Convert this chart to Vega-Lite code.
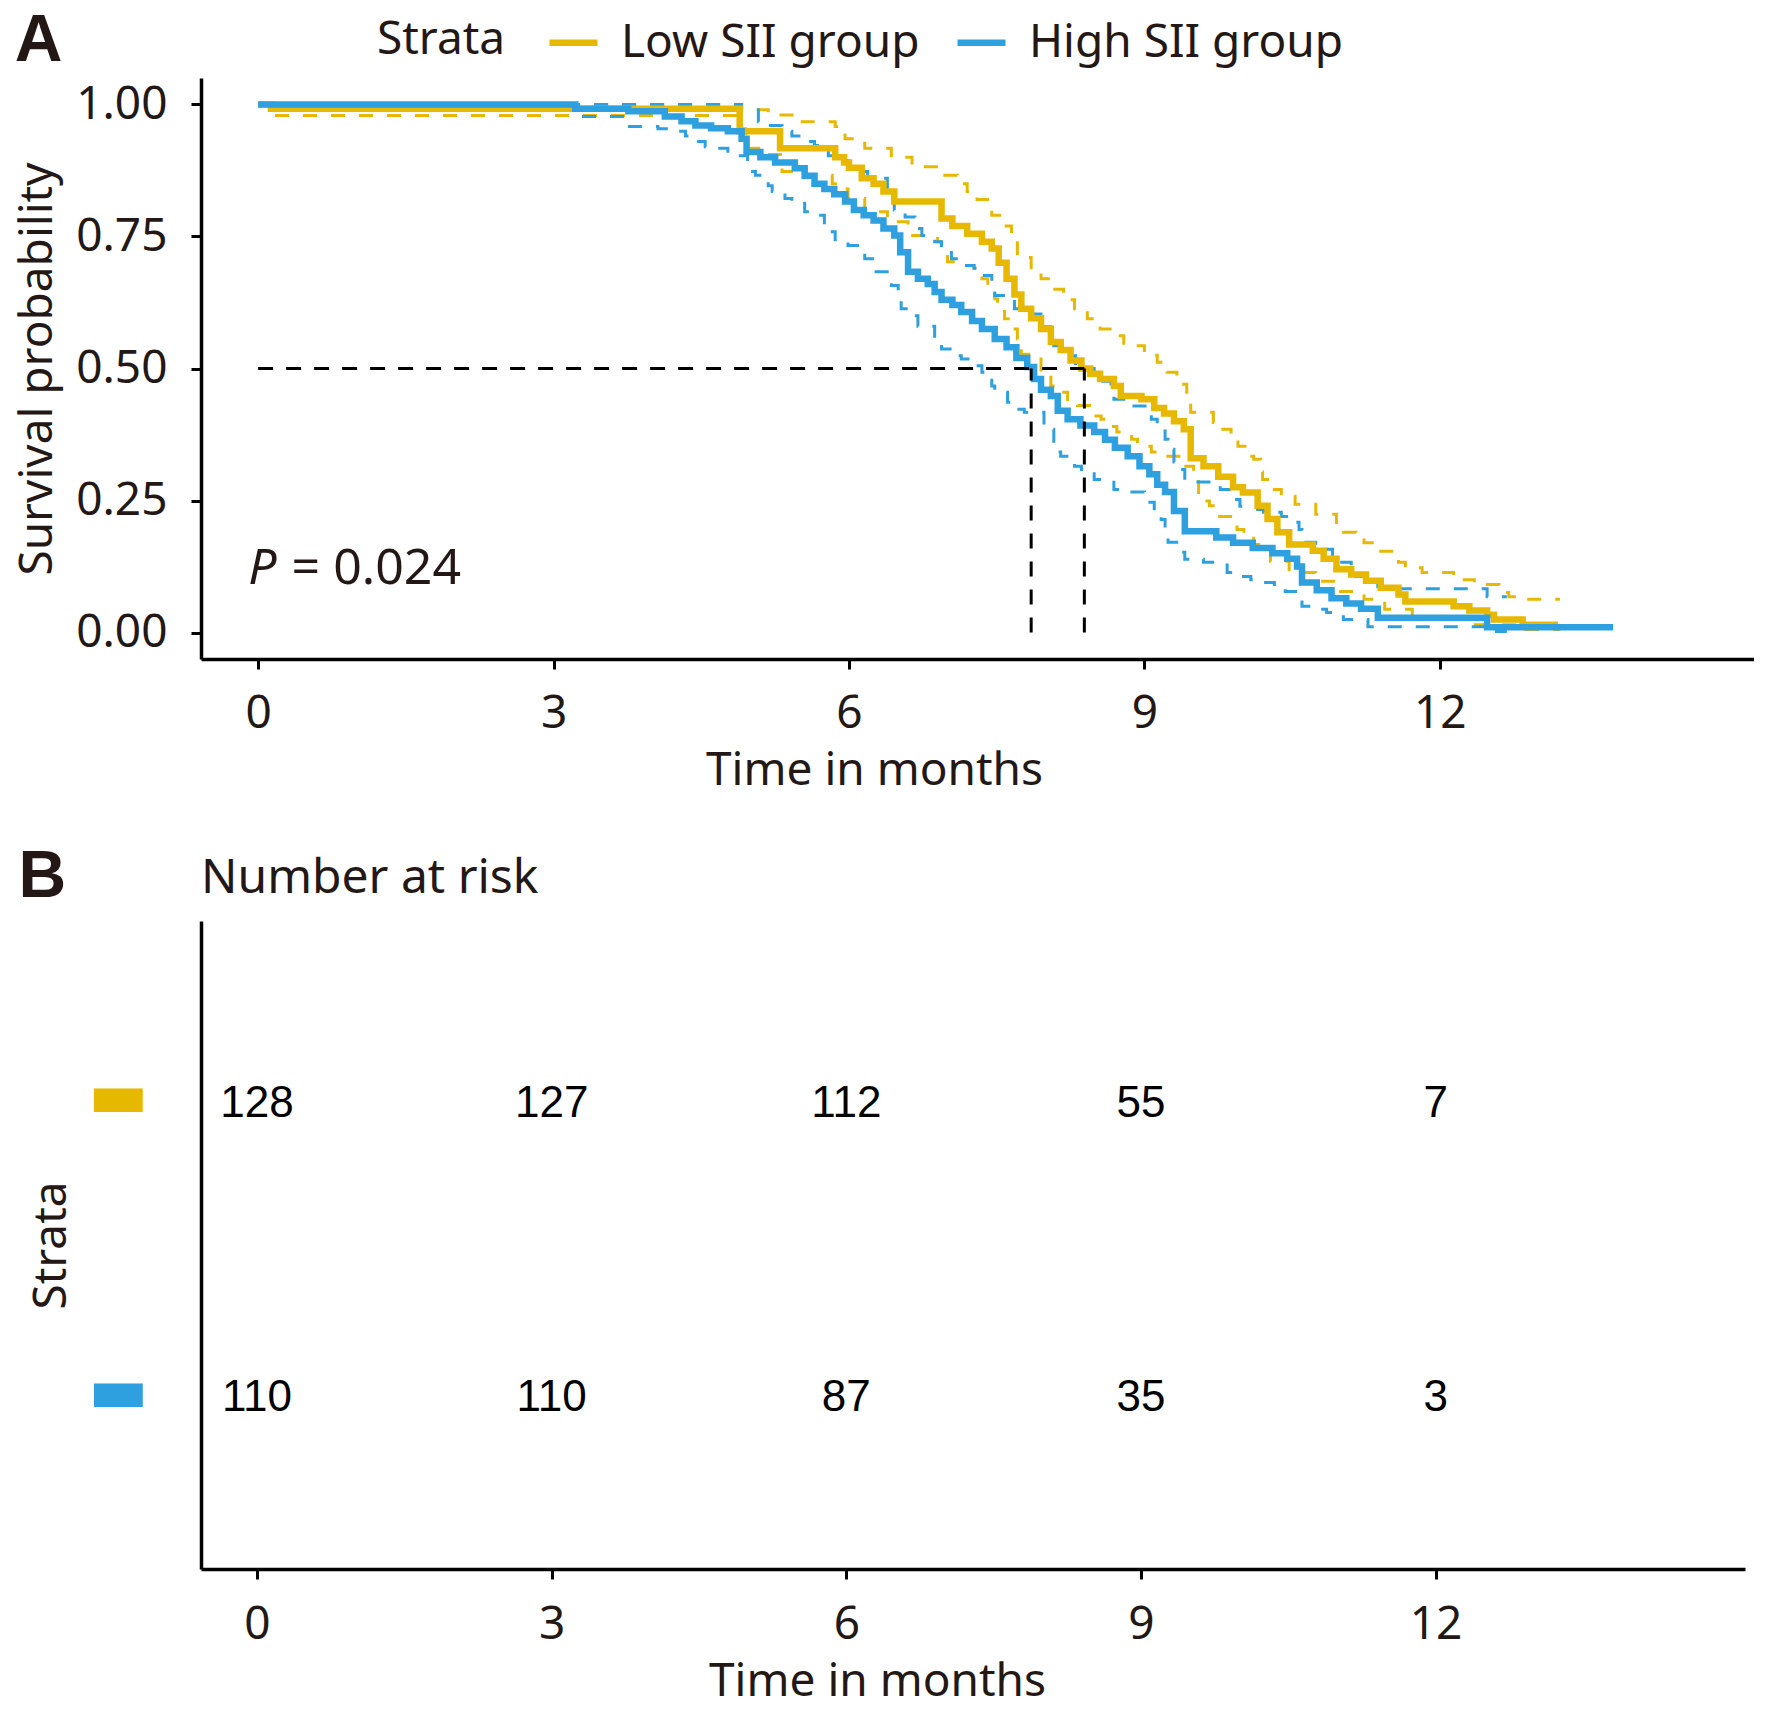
{
  "$schema": "https://vega.github.io/schema/vega-lite/v6.json",
  "background": "white",
  "padding": {"left": 14, "top": 8, "right": 0, "bottom": 6},
  "spacing": 51,
  "config": {
    "view": {"stroke": null},
    "font": "Noto Sans",
    "axis": {
      "grid": false, "domainColor": "#000000", "domainWidth": 3.5, "tickColor": "#000000",
      "tickWidth": 3, "tickSize": 10, "labelFont": "Noto Sans", "labelFontSize": 46,
      "labelColor": "#231815", "titleFont": "Noto Sans", "titleFontSize": 46,
      "titleFontWeight": "normal", "titleColor": "#231815"
    }
  },
  "datasets": {
    "km": [
      {"g":"Low SII group","k":"est","t":0,"s":1},{"g":"Low SII group","k":"est","t":0.13,"s":0.992},{"g":"Low SII group","k":"est","t":4.89,"s":0.949},{"g":"Low SII group","k":"est","t":5.3,"s":0.917},{"g":"Low SII group","k":"est","t":5.86,"s":0.9},{"g":"Low SII group","k":"est","t":5.95,"s":0.89},{"g":"Low SII group","k":"est","t":6.0,"s":0.88},{"g":"Low SII group","k":"est","t":6.13,"s":0.86},{"g":"Low SII group","k":"est","t":6.25,"s":0.85},{"g":"Low SII group","k":"est","t":6.35,"s":0.835},{"g":"Low SII group","k":"est","t":6.46,"s":0.816},{"g":"Low SII group","k":"est","t":6.94,"s":0.784},{"g":"Low SII group","k":"est","t":7.05,"s":0.77},{"g":"Low SII group","k":"est","t":7.2,"s":0.755},{"g":"Low SII group","k":"est","t":7.35,"s":0.74},{"g":"Low SII group","k":"est","t":7.45,"s":0.727},{"g":"Low SII group","k":"est","t":7.52,"s":0.7},{"g":"Low SII group","k":"est","t":7.6,"s":0.67},{"g":"Low SII group","k":"est","t":7.68,"s":0.64},{"g":"Low SII group","k":"est","t":7.75,"s":0.613},{"g":"Low SII group","k":"est","t":7.85,"s":0.595},{"g":"Low SII group","k":"est","t":7.95,"s":0.575},{"g":"Low SII group","k":"est","t":8.05,"s":0.55},{"g":"Low SII group","k":"est","t":8.15,"s":0.535},{"g":"Low SII group","k":"est","t":8.25,"s":0.515},{"g":"Low SII group","k":"est","t":8.36,"s":0.5},{"g":"Low SII group","k":"est","t":8.45,"s":0.49},{"g":"Low SII group","k":"est","t":8.55,"s":0.48},{"g":"Low SII group","k":"est","t":8.69,"s":0.467},{"g":"Low SII group","k":"est","t":8.76,"s":0.448},{"g":"Low SII group","k":"est","t":8.97,"s":0.442},{"g":"Low SII group","k":"est","t":9.1,"s":0.425},{"g":"Low SII group","k":"est","t":9.2,"s":0.415},{"g":"Low SII group","k":"est","t":9.3,"s":0.4},{"g":"Low SII group","k":"est","t":9.4,"s":0.385},{"g":"Low SII group","k":"est","t":9.47,"s":0.33},{"g":"Low SII group","k":"est","t":9.6,"s":0.315},{"g":"Low SII group","k":"est","t":9.75,"s":0.295},{"g":"Low SII group","k":"est","t":9.9,"s":0.275},{"g":"Low SII group","k":"est","t":10.0,"s":0.265},{"g":"Low SII group","k":"est","t":10.15,"s":0.24},{"g":"Low SII group","k":"est","t":10.25,"s":0.215},{"g":"Low SII group","k":"est","t":10.35,"s":0.19},{"g":"Low SII group","k":"est","t":10.47,"s":0.167},{"g":"Low SII group","k":"est","t":10.71,"s":0.155},{"g":"Low SII group","k":"est","t":10.82,"s":0.14},{"g":"Low SII group","k":"est","t":10.95,"s":0.12},{"g":"Low SII group","k":"est","t":11.1,"s":0.11},{"g":"Low SII group","k":"est","t":11.25,"s":0.098},{"g":"Low SII group","k":"est","t":11.4,"s":0.085},{"g":"Low SII group","k":"est","t":11.58,"s":0.072},{"g":"Low SII group","k":"est","t":11.65,"s":0.059},{"g":"Low SII group","k":"est","t":12.14,"s":0.05},{"g":"Low SII group","k":"est","t":12.3,"s":0.042},{"g":"Low SII group","k":"est","t":12.48,"s":0.034},{"g":"Low SII group","k":"est","t":12.55,"s":0.025},{"g":"Low SII group","k":"est","t":12.84,"s":0.015},{"g":"Low SII group","k":"est","t":13.2,"s":0.015},

      {"g":"Low SII group","k":"upper","t":0,"s":1},{"g":"Low SII group","k":"upper","t":4.91,"s":0.99},{"g":"Low SII group","k":"upper","t":5.18,"s":0.98},{"g":"Low SII group","k":"upper","t":5.45,"s":0.967},{"g":"Low SII group","k":"upper","t":5.86,"s":0.958},{"g":"Low SII group","k":"upper","t":5.96,"s":0.935},{"g":"Low SII group","k":"upper","t":6.16,"s":0.917},{"g":"Low SII group","k":"upper","t":6.43,"s":0.9},{"g":"Low SII group","k":"upper","t":6.64,"s":0.882},{"g":"Low SII group","k":"upper","t":6.94,"s":0.866},{"g":"Low SII group","k":"upper","t":7.1,"s":0.85},{"g":"Low SII group","k":"upper","t":7.2,"s":0.835},{"g":"Low SII group","k":"upper","t":7.3,"s":0.82},{"g":"Low SII group","k":"upper","t":7.45,"s":0.79},{"g":"Low SII group","k":"upper","t":7.55,"s":0.77},{"g":"Low SII group","k":"upper","t":7.65,"s":0.745},{"g":"Low SII group","k":"upper","t":7.71,"s":0.71},{"g":"Low SII group","k":"upper","t":7.85,"s":0.685},{"g":"Low SII group","k":"upper","t":7.95,"s":0.67},{"g":"Low SII group","k":"upper","t":8.05,"s":0.65},{"g":"Low SII group","k":"upper","t":8.18,"s":0.63},{"g":"Low SII group","k":"upper","t":8.29,"s":0.613},{"g":"Low SII group","k":"upper","t":8.42,"s":0.594},{"g":"Low SII group","k":"upper","t":8.55,"s":0.575},{"g":"Low SII group","k":"upper","t":8.69,"s":0.562},{"g":"Low SII group","k":"upper","t":8.79,"s":0.543},{"g":"Low SII group","k":"upper","t":9.0,"s":0.525},{"g":"Low SII group","k":"upper","t":9.13,"s":0.512},{"g":"Low SII group","k":"upper","t":9.23,"s":0.493},{"g":"Low SII group","k":"upper","t":9.33,"s":0.47},{"g":"Low SII group","k":"upper","t":9.43,"s":0.448},{"g":"Low SII group","k":"upper","t":9.47,"s":0.417},{"g":"Low SII group","k":"upper","t":9.7,"s":0.398},{"g":"Low SII group","k":"upper","t":9.74,"s":0.385},{"g":"Low SII group","k":"upper","t":9.88,"s":0.366},{"g":"Low SII group","k":"upper","t":9.95,"s":0.353},{"g":"Low SII group","k":"upper","t":10.04,"s":0.334},{"g":"Low SII group","k":"upper","t":10.11,"s":0.328},{"g":"Low SII group","k":"upper","t":10.18,"s":0.304},{"g":"Low SII group","k":"upper","t":10.2,"s":0.29},{"g":"Low SII group","k":"upper","t":10.32,"s":0.271},{"g":"Low SII group","k":"upper","t":10.39,"s":0.258},{"g":"Low SII group","k":"upper","t":10.53,"s":0.243},{"g":"Low SII group","k":"upper","t":10.74,"s":0.224},{"g":"Low SII group","k":"upper","t":10.95,"s":0.195},{"g":"Low SII group","k":"upper","t":11.02,"s":0.19},{"g":"Low SII group","k":"upper","t":11.15,"s":0.18},{"g":"Low SII group","k":"upper","t":11.23,"s":0.17},{"g":"Low SII group","k":"upper","t":11.37,"s":0.154},{"g":"Low SII group","k":"upper","t":11.58,"s":0.133},{"g":"Low SII group","k":"upper","t":11.65,"s":0.123},{"g":"Low SII group","k":"upper","t":11.82,"s":0.114},{"g":"Low SII group","k":"upper","t":12.14,"s":0.105},{"g":"Low SII group","k":"upper","t":12.21,"s":0.1},{"g":"Low SII group","k":"upper","t":12.35,"s":0.091},{"g":"Low SII group","k":"upper","t":12.6,"s":0.076},{"g":"Low SII group","k":"upper","t":12.7,"s":0.068},{"g":"Low SII group","k":"upper","t":12.84,"s":0.063},{"g":"Low SII group","k":"upper","t":13.22,"s":0.063},

      {"g":"Low SII group","k":"lower","t":0,"s":1},{"g":"Low SII group","k":"lower","t":0.13,"s":0.979},{"g":"Low SII group","k":"lower","t":4.91,"s":0.954},{"g":"Low SII group","k":"lower","t":4.95,"s":0.917},{"g":"Low SII group","k":"lower","t":5.1,"s":0.905},{"g":"Low SII group","k":"lower","t":5.32,"s":0.873},{"g":"Low SII group","k":"lower","t":5.55,"s":0.866},{"g":"Low SII group","k":"lower","t":5.83,"s":0.85},{"g":"Low SII group","k":"lower","t":5.89,"s":0.84},{"g":"Low SII group","k":"lower","t":5.99,"s":0.822},{"g":"Low SII group","k":"lower","t":6.16,"s":0.797},{"g":"Low SII group","k":"lower","t":6.39,"s":0.778},{"g":"Low SII group","k":"lower","t":6.6,"s":0.752},{"g":"Low SII group","k":"lower","t":6.9,"s":0.74},{"g":"Low SII group","k":"lower","t":6.94,"s":0.727},{"g":"Low SII group","k":"lower","t":7.0,"s":0.702},{"g":"Low SII group","k":"lower","t":7.1,"s":0.695},{"g":"Low SII group","k":"lower","t":7.27,"s":0.69},{"g":"Low SII group","k":"lower","t":7.35,"s":0.67},{"g":"Low SII group","k":"lower","t":7.41,"s":0.65},{"g":"Low SII group","k":"lower","t":7.48,"s":0.632},{"g":"Low SII group","k":"lower","t":7.51,"s":0.613},{"g":"Low SII group","k":"lower","t":7.58,"s":0.594},{"g":"Low SII group","k":"lower","t":7.65,"s":0.575},{"g":"Low SII group","k":"lower","t":7.71,"s":0.556},{"g":"Low SII group","k":"lower","t":7.75,"s":0.527},{"g":"Low SII group","k":"lower","t":7.95,"s":0.49},{"g":"Low SII group","k":"lower","t":8.05,"s":0.467},{"g":"Low SII group","k":"lower","t":8.12,"s":0.455},{"g":"Low SII group","k":"lower","t":8.22,"s":0.436},{"g":"Low SII group","k":"lower","t":8.32,"s":0.43},{"g":"Low SII group","k":"lower","t":8.46,"s":0.41},{"g":"Low SII group","k":"lower","t":8.56,"s":0.404},{"g":"Low SII group","k":"lower","t":8.66,"s":0.39},{"g":"Low SII group","k":"lower","t":8.72,"s":0.38},{"g":"Low SII group","k":"lower","t":8.87,"s":0.366},{"g":"Low SII group","k":"lower","t":8.93,"s":0.353},{"g":"Low SII group","k":"lower","t":9.07,"s":0.342},{"g":"Low SII group","k":"lower","t":9.17,"s":0.334},{"g":"Low SII group","k":"lower","t":9.37,"s":0.315},{"g":"Low SII group","k":"lower","t":9.5,"s":0.296},{"g":"Low SII group","k":"lower","t":9.55,"s":0.249},{"g":"Low SII group","k":"lower","t":9.66,"s":0.24},{"g":"Low SII group","k":"lower","t":9.73,"s":0.22},{"g":"Low SII group","k":"lower","t":9.94,"s":0.195},{"g":"Low SII group","k":"lower","t":10.01,"s":0.186},{"g":"Low SII group","k":"lower","t":10.11,"s":0.167},{"g":"Low SII group","k":"lower","t":10.18,"s":0.158},{"g":"Low SII group","k":"lower","t":10.28,"s":0.135},{"g":"Low SII group","k":"lower","t":10.47,"s":0.114},{"g":"Low SII group","k":"lower","t":10.74,"s":0.097},{"g":"Low SII group","k":"lower","t":10.95,"s":0.078},{"g":"Low SII group","k":"lower","t":11.23,"s":0.063},{"g":"Low SII group","k":"lower","t":11.44,"s":0.044},{"g":"Low SII group","k":"lower","t":11.72,"s":0.03},{"g":"Low SII group","k":"lower","t":12.0,"s":0.026},{"g":"Low SII group","k":"lower","t":12.28,"s":0.015},{"g":"Low SII group","k":"lower","t":12.87,"s":0.006},{"g":"Low SII group","k":"lower","t":13.22,"s":0.004},

      {"g":"High SII group","k":"est","t":0,"s":1},{"g":"High SII group","k":"est","t":3.22,"s":0.992},{"g":"High SII group","k":"est","t":3.76,"s":0.987},{"g":"High SII group","k":"est","t":4.13,"s":0.977},{"g":"High SII group","k":"est","t":4.3,"s":0.968},{"g":"High SII group","k":"est","t":4.44,"s":0.96},{"g":"High SII group","k":"est","t":4.6,"s":0.955},{"g":"High SII group","k":"est","t":4.77,"s":0.949},{"g":"High SII group","k":"est","t":4.91,"s":0.935},{"g":"High SII group","k":"est","t":4.96,"s":0.91},{"g":"High SII group","k":"est","t":5.1,"s":0.9},{"g":"High SII group","k":"est","t":5.25,"s":0.89},{"g":"High SII group","k":"est","t":5.45,"s":0.879},{"g":"High SII group","k":"est","t":5.55,"s":0.865},{"g":"High SII group","k":"est","t":5.65,"s":0.85},{"g":"High SII group","k":"est","t":5.75,"s":0.84},{"g":"High SII group","k":"est","t":5.85,"s":0.83},{"g":"High SII group","k":"est","t":5.96,"s":0.816},{"g":"High SII group","k":"est","t":6.05,"s":0.8},{"g":"High SII group","k":"est","t":6.15,"s":0.79},{"g":"High SII group","k":"est","t":6.25,"s":0.78},{"g":"High SII group","k":"est","t":6.35,"s":0.765},{"g":"High SII group","k":"est","t":6.46,"s":0.752},{"g":"High SII group","k":"est","t":6.52,"s":0.72},{"g":"High SII group","k":"est","t":6.6,"s":0.683},{"g":"High SII group","k":"est","t":6.7,"s":0.67},{"g":"High SII group","k":"est","t":6.8,"s":0.66},{"g":"High SII group","k":"est","t":6.87,"s":0.645},{"g":"High SII group","k":"est","t":6.94,"s":0.63},{"g":"High SII group","k":"est","t":7.05,"s":0.62},{"g":"High SII group","k":"est","t":7.14,"s":0.607},{"g":"High SII group","k":"est","t":7.25,"s":0.59},{"g":"High SII group","k":"est","t":7.35,"s":0.575},{"g":"High SII group","k":"est","t":7.48,"s":0.556},{"g":"High SII group","k":"est","t":7.6,"s":0.54},{"g":"High SII group","k":"est","t":7.7,"s":0.52},{"g":"High SII group","k":"est","t":7.81,"s":0.503},{"g":"High SII group","k":"est","t":7.88,"s":0.48},{"g":"High SII group","k":"est","t":7.95,"s":0.46},{"g":"High SII group","k":"est","t":8.05,"s":0.448},{"g":"High SII group","k":"est","t":8.12,"s":0.42},{"g":"High SII group","k":"est","t":8.22,"s":0.404},{"g":"High SII group","k":"est","t":8.35,"s":0.392},{"g":"High SII group","k":"est","t":8.49,"s":0.38},{"g":"High SII group","k":"est","t":8.6,"s":0.365},{"g":"High SII group","k":"est","t":8.7,"s":0.35},{"g":"High SII group","k":"est","t":8.83,"s":0.334},{"g":"High SII group","k":"est","t":8.95,"s":0.315},{"g":"High SII group","k":"est","t":9.05,"s":0.3},{"g":"High SII group","k":"est","t":9.13,"s":0.28},{"g":"High SII group","k":"est","t":9.21,"s":0.266},{"g":"High SII group","k":"est","t":9.3,"s":0.23},{"g":"High SII group","k":"est","t":9.41,"s":0.192},{"g":"High SII group","k":"est","t":9.73,"s":0.18},{"g":"High SII group","k":"est","t":9.9,"s":0.17},{"g":"High SII group","k":"est","t":10.1,"s":0.16},{"g":"High SII group","k":"est","t":10.3,"s":0.15},{"g":"High SII group","k":"est","t":10.45,"s":0.14},{"g":"High SII group","k":"est","t":10.55,"s":0.125},{"g":"High SII group","k":"est","t":10.6,"s":0.095},{"g":"High SII group","k":"est","t":10.75,"s":0.08},{"g":"High SII group","k":"est","t":10.9,"s":0.065},{"g":"High SII group","k":"est","t":11.05,"s":0.055},{"g":"High SII group","k":"est","t":11.2,"s":0.045},{"g":"High SII group","k":"est","t":11.37,"s":0.028},{"g":"High SII group","k":"est","t":12.48,"s":0.01},{"g":"High SII group","k":"est","t":13.76,"s":0.01},

      {"g":"High SII group","k":"upper","t":0,"s":1},{"g":"High SII group","k":"upper","t":4.91,"s":0.99},{"g":"High SII group","k":"upper","t":5.08,"s":0.967},{"g":"High SII group","k":"upper","t":5.18,"s":0.96},{"g":"High SII group","k":"upper","t":5.32,"s":0.949},{"g":"High SII group","k":"upper","t":5.42,"s":0.94},{"g":"High SII group","k":"upper","t":5.55,"s":0.93},{"g":"High SII group","k":"upper","t":5.65,"s":0.922},{"g":"High SII group","k":"upper","t":5.79,"s":0.903},{"g":"High SII group","k":"upper","t":5.86,"s":0.894},{"g":"High SII group","k":"upper","t":5.99,"s":0.879},{"g":"High SII group","k":"upper","t":6.06,"s":0.873},{"g":"High SII group","k":"upper","t":6.19,"s":0.86},{"g":"High SII group","k":"upper","t":6.39,"s":0.835},{"g":"High SII group","k":"upper","t":6.46,"s":0.8},{"g":"High SII group","k":"upper","t":6.57,"s":0.787},{"g":"High SII group","k":"upper","t":6.67,"s":0.765},{"g":"High SII group","k":"upper","t":6.74,"s":0.752},{"g":"High SII group","k":"upper","t":6.87,"s":0.74},{"g":"High SII group","k":"upper","t":6.94,"s":0.727},{"g":"High SII group","k":"upper","t":7.04,"s":0.708},{"g":"High SII group","k":"upper","t":7.14,"s":0.695},{"g":"High SII group","k":"upper","t":7.27,"s":0.69},{"g":"High SII group","k":"upper","t":7.35,"s":0.676},{"g":"High SII group","k":"upper","t":7.45,"s":0.657},{"g":"High SII group","k":"upper","t":7.48,"s":0.638},{"g":"High SII group","k":"upper","t":7.61,"s":0.632},{"g":"High SII group","k":"upper","t":7.68,"s":0.613},{"g":"High SII group","k":"upper","t":7.81,"s":0.603},{"g":"High SII group","k":"upper","t":7.98,"s":0.579},{"g":"High SII group","k":"upper","t":8.05,"s":0.562},{"g":"High SII group","k":"upper","t":8.08,"s":0.543},{"g":"High SII group","k":"upper","t":8.15,"s":0.524},{"g":"High SII group","k":"upper","t":8.3,"s":0.5},{"g":"High SII group","k":"upper","t":8.49,"s":0.476},{"g":"High SII group","k":"upper","t":8.66,"s":0.455},{"g":"High SII group","k":"upper","t":8.69,"s":0.442},{"g":"High SII group","k":"upper","t":8.87,"s":0.429},{"g":"High SII group","k":"upper","t":9.07,"s":0.404},{"g":"High SII group","k":"upper","t":9.13,"s":0.391},{"g":"High SII group","k":"upper","t":9.21,"s":0.366},{"g":"High SII group","k":"upper","t":9.24,"s":0.347},{"g":"High SII group","k":"upper","t":9.3,"s":0.323},{"g":"High SII group","k":"upper","t":9.34,"s":0.309},{"g":"High SII group","k":"upper","t":9.41,"s":0.285},{"g":"High SII group","k":"upper","t":9.77,"s":0.271},{"g":"High SII group","k":"upper","t":9.91,"s":0.252},{"g":"High SII group","k":"upper","t":9.97,"s":0.239},{"g":"High SII group","k":"upper","t":10.15,"s":0.233},{"g":"High SII group","k":"upper","t":10.21,"s":0.228},{"g":"High SII group","k":"upper","t":10.39,"s":0.22},{"g":"High SII group","k":"upper","t":10.47,"s":0.209},{"g":"High SII group","k":"upper","t":10.57,"s":0.195},{"g":"High SII group","k":"upper","t":10.6,"s":0.171},{"g":"High SII group","k":"upper","t":10.74,"s":0.163},{"g":"High SII group","k":"upper","t":10.81,"s":0.158},{"g":"High SII group","k":"upper","t":10.91,"s":0.133},{"g":"High SII group","k":"upper","t":11.1,"s":0.106},{"g":"High SII group","k":"upper","t":11.37,"s":0.087},{"g":"High SII group","k":"upper","t":11.44,"s":0.083},{"g":"High SII group","k":"upper","t":12.48,"s":0.068},{"g":"High SII group","k":"upper","t":12.68,"s":0.068},

      {"g":"High SII group","k":"lower","t":0,"s":1},{"g":"High SII group","k":"lower","t":3.22,"s":0.977},{"g":"High SII group","k":"lower","t":3.75,"s":0.958},{"g":"High SII group","k":"lower","t":4.06,"s":0.954},{"g":"High SII group","k":"lower","t":4.2,"s":0.949},{"g":"High SII group","k":"lower","t":4.34,"s":0.94},{"g":"High SII group","k":"lower","t":4.4,"s":0.93},{"g":"High SII group","k":"lower","t":4.54,"s":0.92},{"g":"High SII group","k":"lower","t":4.67,"s":0.917},{"g":"High SII group","k":"lower","t":4.77,"s":0.903},{"g":"High SII group","k":"lower","t":4.97,"s":0.873},{"g":"High SII group","k":"lower","t":5.05,"s":0.866},{"g":"High SII group","k":"lower","t":5.18,"s":0.846},{"g":"High SII group","k":"lower","t":5.22,"s":0.835},{"g":"High SII group","k":"lower","t":5.35,"s":0.822},{"g":"High SII group","k":"lower","t":5.42,"s":0.816},{"g":"High SII group","k":"lower","t":5.55,"s":0.797},{"g":"High SII group","k":"lower","t":5.65,"s":0.79},{"g":"High SII group","k":"lower","t":5.75,"s":0.765},{"g":"High SII group","k":"lower","t":5.83,"s":0.759},{"g":"High SII group","k":"lower","t":5.86,"s":0.74},{"g":"High SII group","k":"lower","t":5.99,"s":0.733},{"g":"High SII group","k":"lower","t":6.13,"s":0.721},{"g":"High SII group","k":"lower","t":6.16,"s":0.708},{"g":"High SII group","k":"lower","t":6.26,"s":0.683},{"g":"High SII group","k":"lower","t":6.43,"s":0.657},{"g":"High SII group","k":"lower","t":6.5,"s":0.638},{"g":"High SII group","k":"lower","t":6.53,"s":0.613},{"g":"High SII group","k":"lower","t":6.6,"s":0.6},{"g":"High SII group","k":"lower","t":6.7,"s":0.58},{"g":"High SII group","k":"lower","t":6.87,"s":0.556},{"g":"High SII group","k":"lower","t":6.94,"s":0.537},{"g":"High SII group","k":"lower","t":7.07,"s":0.524},{"g":"High SII group","k":"lower","t":7.14,"s":0.518},{"g":"High SII group","k":"lower","t":7.27,"s":0.505},{"g":"High SII group","k":"lower","t":7.35,"s":0.493},{"g":"High SII group","k":"lower","t":7.45,"s":0.467},{"g":"High SII group","k":"lower","t":7.48,"s":0.455},{"g":"High SII group","k":"lower","t":7.61,"s":0.436},{"g":"High SII group","k":"lower","t":7.65,"s":0.423},{"g":"High SII group","k":"lower","t":7.78,"s":0.417},{"g":"High SII group","k":"lower","t":7.98,"s":0.391},{"g":"High SII group","k":"lower","t":8.05,"s":0.385},{"g":"High SII group","k":"lower","t":8.08,"s":0.342},{"g":"High SII group","k":"lower","t":8.15,"s":0.334},{"g":"High SII group","k":"lower","t":8.29,"s":0.315},{"g":"High SII group","k":"lower","t":8.36,"s":0.309},{"g":"High SII group","k":"lower","t":8.49,"s":0.29},{"g":"High SII group","k":"lower","t":8.69,"s":0.271},{"g":"High SII group","k":"lower","t":8.76,"s":0.266},{"g":"High SII group","k":"lower","t":9.0,"s":0.247},{"g":"High SII group","k":"lower","t":9.1,"s":0.22},{"g":"High SII group","k":"lower","t":9.17,"s":0.214},{"g":"High SII group","k":"lower","t":9.21,"s":0.19},{"g":"High SII group","k":"lower","t":9.24,"s":0.171},{"g":"High SII group","k":"lower","t":9.38,"s":0.152},{"g":"High SII group","k":"lower","t":9.41,"s":0.139},{"g":"High SII group","k":"lower","t":9.6,"s":0.133},{"g":"High SII group","k":"lower","t":9.84,"s":0.114},{"g":"High SII group","k":"lower","t":9.91,"s":0.106},{"g":"High SII group","k":"lower","t":10.08,"s":0.1},{"g":"High SII group","k":"lower","t":10.18,"s":0.095},{"g":"High SII group","k":"lower","t":10.32,"s":0.085},{"g":"High SII group","k":"lower","t":10.43,"s":0.078},{"g":"High SII group","k":"lower","t":10.57,"s":0.068},{"g":"High SII group","k":"lower","t":10.6,"s":0.05},{"g":"High SII group","k":"lower","t":10.78,"s":0.044},{"g":"High SII group","k":"lower","t":10.85,"s":0.038},{"g":"High SII group","k":"lower","t":11.02,"s":0.025},{"g":"High SII group","k":"lower","t":11.27,"s":0.011},{"g":"High SII group","k":"lower","t":12.48,"s":0.002},{"g":"High SII group","k":"lower","t":12.68,"s":0.002}
    ],
    "median": [
      {"x": 0, "x2": 8.39, "y": 0.5, "y2": 0.5},
      {"x": 7.85, "x2": 7.85, "y": 0, "y2": 0.5},
      {"x": 8.39, "x2": 8.39, "y": 0, "y2": 0.5}
    ],
    "risk": [
      {"t": 0, "g": "Low", "n": 128}, {"t": 3, "g": "Low", "n": 127}, {"t": 6, "g": "Low", "n": 112}, {"t": 9, "g": "Low", "n": 55}, {"t": 12, "g": "Low", "n": 7},
      {"t": 0, "g": "High", "n": 110}, {"t": 3, "g": "High", "n": 110}, {"t": 6, "g": "High", "n": 87}, {"t": 9, "g": "High", "n": 35}, {"t": 12, "g": "High", "n": 3}
    ]
  },
  "vconcat": [
    {
      "title": {"text": "A", "anchor": "start", "frame": "bounds", "font": "Liberation Sans", "fontSize": 66, "fontWeight": "bold", "color": "#231815", "offset": 0, "dy": -3},
      "width": 1553,
      "height": 581,
      "layer": [
        {
          "data": {"name": "km"},
          "transform": [{"filter": "datum.k !== 'est'"}],
          "mark": {"type": "line", "interpolate": "step-after", "strokeWidth": 3, "strokeDash": [14, 14]},
          "encoding": {
            "x": {"field": "t", "type": "quantitative", "scale": {"domain": [-0.58, 15.19], "nice": false, "zero": false},
              "axis": {"values": [0, 3, 6, 9, 12], "format": "d", "title": "Time in months", "labelPadding": 22, "titlePadding": 12, "titleX": 673, "titleAnchor": "middle"}},
            "y": {"field": "s", "type": "quantitative", "scale": {"domain": [-0.05, 1.05], "nice": false, "zero": false},
              "axis": {"values": [0, 0.25, 0.5, 0.75, 1], "format": ".2f", "title": "Survival probability", "labelPadding": 24, "titlePadding": 14}},
            "color": {"field": "g", "type": "nominal",
              "scale": {"domain": ["Low SII group", "High SII group"], "range": ["#E7B800", "#2E9FDF"]},
              "legend": {"orient": "none", "direction": "horizontal", "legendX": 176, "legendY": -63,
                "title": "Strata", "titleOrient": "left", "titleFont": "Noto Sans", "titleFontSize": 46, "titleFontWeight": "normal", "titleColor": "#231815", "titlePadding": 40,
                "labelFont": "Noto Sans", "labelFontSize": 46, "labelColor": "#231815", "labelOffset": 20, "labelLimit": 0,
                "symbolType": "stroke", "symbolSize": 2304, "symbolStrokeWidth": 6.5, "symbolDash": [1, 0], "columnPadding": 24}},
            "detail": {"field": "k"}
          }
        },
        {
          "data": {"name": "km"},
          "transform": [{"filter": "datum.k === 'est'"}],
          "mark": {"type": "line", "interpolate": "step-after", "strokeWidth": 6.5},
          "encoding": {
            "x": {"field": "t", "type": "quantitative"},
            "y": {"field": "s", "type": "quantitative"},
            "color": {"field": "g", "type": "nominal"}
          }
        },
        {
          "data": {"name": "median"},
          "mark": {"type": "rule", "color": "#000000", "strokeWidth": 3, "strokeDash": [15, 13]},
          "encoding": {
            "x": {"field": "x", "type": "quantitative"},
            "x2": {"field": "x2"},
            "y": {"field": "y", "type": "quantitative"},
            "y2": {"field": "y2"}
          }
        },
        {
          "data": {"values": [{"t": -0.1, "s": 0.121, "label": "P"}]},
          "mark": {"type": "text", "align": "left", "baseline": "middle", "font": "Noto Sans", "fontSize": 50, "fontStyle": "italic", "color": "#231815"},
          "encoding": {"x": {"field": "t", "type": "quantitative"}, "y": {"field": "s", "type": "quantitative"}, "text": {"field": "label"}}
        },
        {
          "data": {"values": [{"t": 0.34, "s": 0.121, "label": "= 0.024"}]},
          "mark": {"type": "text", "align": "left", "baseline": "middle", "font": "Noto Sans", "fontSize": 50, "color": "#231815"},
          "encoding": {"x": {"field": "t", "type": "quantitative"}, "y": {"field": "s", "type": "quantitative"}, "text": {"field": "label"}}
        }
      ]
    },
    {
      "title": {"text": "B", "anchor": "start", "frame": "bounds", "font": "Liberation Sans", "fontSize": 66, "fontWeight": "bold", "color": "#231815", "dy": 60, "dx": -10},
      "vconcat": [
        {
          "title": {"text": "Number at risk", "anchor": "start", "frame": "group", "font": "Noto Sans", "fontSize": 48, "fontWeight": "normal", "color": "#231815", "offset": 18},
          "width": 1544,
          "height": 648,
          "data": {"name": "risk"},
          "mark": {"type": "text", "font": "Liberation Sans", "fontSize": 44, "color": "#000000", "baseline": "middle", "align": "center", "dy": 6},
          "encoding": {
            "x": {"field": "t", "type": "quantitative", "scale": {"domain": [-0.57, 15.15], "nice": false, "zero": false},
              "axis": {"values": [0, 3, 6, 9, 12], "format": "d", "title": "Time in months", "labelPadding": 23, "titlePadding": 12, "titleX": 676, "titleAnchor": "middle"}},
            "y": {"field": "g", "type": "nominal", "scale": {"type": "point", "domain": ["Low", "High"], "padding": 0.6},
              "axis": {"title": "Strata", "ticks": false, "labelExpr": "'▬'", "labelFont": "DejaVu Sans", "labelFontSize": 64, "labelPadding": 53,
                "labelColor": {"expr": "datum.value === 'Low' ? '#E7B800' : '#2E9FDF'"}, "titlePadding": 12}},
            "text": {"field": "n"}
          }
        }
      ]
    }
  ]
}
